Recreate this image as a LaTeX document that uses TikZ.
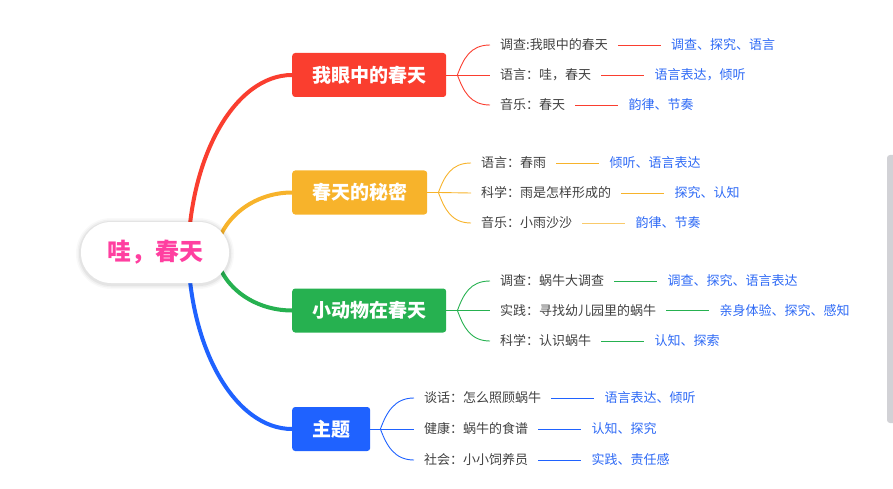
\documentclass[tikz,border=0pt]{standalone}
\usepackage{fontspec}
\setmainfont{Noto Sans CJK SC}
\usetikzlibrary{calc,backgrounds}
\definecolor{cred}{RGB}{250,62,47}
\definecolor{corange}{RGB}{247,179,43}
\definecolor{cgreen}{RGB}{38,177,80}
\definecolor{cblue}{RGB}{31,98,255}
\definecolor{cpink}{RGB}{255,63,160}
\definecolor{leafgray}{RGB}{64,64,64}
\definecolor{tagblue}{RGB}{45,105,245}
\definecolor{scrollgray}{RGB}{210,210,214}
\tikzset{
  mainbox/.style={anchor=west, rounded corners=3pt, text=white,
    font=\fontsize{19}{22}\selectfont\bfseries, inner xsep=20pt, inner ysep=0pt,
    minimum height=44pt},
  leaf/.style={anchor=west, inner xsep=10pt, inner ysep=2pt, text=leafgray,
    font=\fontsize{13}{15}\selectfont},
  tag/.style={anchor=west, inner xsep=10pt, inner ysep=2pt, text=tagblue,
    font=\fontsize{13}{15}\selectfont},
  sub/.style={line width=0.9pt},
  trunk/.style={line width=4pt},
  rootbox/.style={fill=white, rounded corners=30pt, minimum width=148pt,
    minimum height=61pt, inner sep=0pt, text=cpink,
    font=\fontsize{24}{28}\selectfont\bfseries},
}
\begin{document}
\begin{tikzpicture}[x=1pt,y=-1pt]
\useasboundingbox (0,0) rectangle (893,489);
% scrollbar
\fill[scrollgray, rounded corners=3pt] (887,155) rectangle (897,423);

% main boxes
\node[mainbox, fill=cred] (rm) at (292,75) {我眼中的春天};
\node[mainbox, fill=corange] (om) at (292,192.5) {春天的秘密};
\node[mainbox, fill=cgreen] (gm) at (292,310.5) {小动物在春天};
\node[mainbox, fill=cblue] (bm) at (292,429) {主题};

% junctions
\coordinate (rj) at ([xshift=11pt]rm.east);
\coordinate (oj) at ([xshift=11pt]om.east);
\coordinate (gj) at ([xshift=11pt]gm.east);
\coordinate (bj) at ([xshift=10pt]bm.east);

% red leaves
\node[leaf] (r1) at (490,45) {调查:我眼中的春天};
\node[leaf] (r2) at (490,75) {语言：哇，春天};
\node[leaf] (r3) at (490,105) {音乐：春天};
\node[tag] (r1t) at ([xshift=43pt]r1.east) {调查、探究、语言};
\node[tag] (r2t) at ([xshift=43pt]r2.east) {语言表达，倾听};
\node[tag] (r3t) at ([xshift=43pt]r3.east) {韵律、节奏};

% orange leaves
\node[leaf] (o1) at (471,163) {语言：春雨};
\node[leaf] (o2) at (471,193) {科学：雨是怎样形成的};
\node[leaf] (o3) at (471,223) {音乐：小雨沙沙};
\node[tag] (o1t) at ([xshift=43pt]o1.east) {倾听、语言表达};
\node[tag] (o2t) at ([xshift=43pt]o2.east) {探究、认知};
\node[tag] (o3t) at ([xshift=43pt]o3.east) {韵律、节奏};

% green leaves
\node[leaf] (g1) at (490,281) {调查：蜗牛大调查};
\node[leaf] (g2) at (490,310.5) {实践：寻找幼儿园里的蜗牛};
\node[leaf] (g3) at (490,341) {科学：认识蜗牛};
\node[tag] (g1t) at ([xshift=43pt]g1.east) {调查、探究、语言表达};
\node[tag] (g2t) at ([xshift=43pt]g2.east) {亲身体验、探究、感知};
\node[tag] (g3t) at ([xshift=43pt]g3.east) {认知、探索};

% blue leaves
\node[leaf] (b1) at (414,398) {谈话：怎么照顾蜗牛};
\node[leaf] (b2) at (414,429) {健康：蜗牛的食谱};
\node[leaf] (b3) at (414,460) {社会：小小饲养员};
\node[tag] (b1t) at ([xshift=43pt]b1.east) {语言表达、倾听};
\node[tag] (b2t) at ([xshift=43pt]b2.east) {认知、探究};
\node[tag] (b3t) at ([xshift=43pt]b3.east) {实践、责任感};

\coordinate (rc) at (155,252.5);

\begin{scope}[on background layer]
% trunks
\draw[trunk, cred] ($(rc)+(33,8)$) .. controls ($(rc)+(33,-95)$) and ($(rm.west)+(-57,0)$) .. (rm.west);
\draw[trunk, corange] ($(rc)+(60,8)$) .. controls ($(rc)+(60,-29)$) and ($(om.west)+(-42,0)$) .. (om.west);
\draw[trunk, cgreen] ($(rc)+(60,-8)$) .. controls ($(rc)+(60,29)$) and ($(gm.west)+(-42,0)$) .. (gm.west);
\draw[trunk, cblue] ($(rc)+(33,-8)$) .. controls ($(rc)+(33,95)$) and ($(bm.west)+(-57,0)$) .. (bm.west);

% red fan
\draw[sub, cred] (rm.east) -- (rj);
\draw[sub, cred] (rj) .. controls ($(rj)+(6,-16)$) and ($(r1.west)+(-20,0)$) .. (r1.west);
\draw[sub, cred] (rj) -- (r2.west);
\draw[sub, cred] (rj) .. controls ($(rj)+(6,16)$) and ($(r3.west)+(-20,0)$) .. (r3.west);
\draw[sub, cred] (r1.east) -- (r1t.west);
\draw[sub, cred] (r2.east) -- (r2t.west);
\draw[sub, cred] (r3.east) -- (r3t.west);

% orange fan
\draw[sub, corange] (om.east) -- (oj);
\draw[sub, corange] (oj) .. controls ($(oj)+(6,-16)$) and ($(o1.west)+(-20,0)$) .. (o1.west);
\draw[sub, corange] (oj) -- (o2.west);
\draw[sub, corange] (oj) .. controls ($(oj)+(6,16)$) and ($(o3.west)+(-20,0)$) .. (o3.west);
\draw[sub, corange] (o1.east) -- (o1t.west);
\draw[sub, corange] (o2.east) -- (o2t.west);
\draw[sub, corange!70] (o3.east) -- (o3t.west);

% green fan
\draw[sub, cgreen] (gm.east) -- (gj);
\draw[sub, cgreen] (gj) .. controls ($(gj)+(6,-16)$) and ($(g1.west)+(-20,0)$) .. (g1.west);
\draw[sub, cgreen] (gj) -- (g2.west);
\draw[sub, cgreen] (gj) .. controls ($(gj)+(6,16)$) and ($(g3.west)+(-20,0)$) .. (g3.west);
\draw[sub, cgreen] (g1.east) -- (g1t.west);
\draw[sub, cgreen] (g2.east) -- (g2t.west);
\draw[sub, cgreen] (g3.east) -- (g3t.west);

% blue fan
\draw[sub, cblue] (bm.east) -- (bj);
\draw[sub, cblue] (bj) .. controls ($(bj)+(6,-16)$) and ($(b1.west)+(-20,0)$) .. (b1.west);
\draw[sub, cblue] (bj) -- (b2.west);
\draw[sub, cblue] (bj) .. controls ($(bj)+(6,16)$) and ($(b3.west)+(-20,0)$) .. (b3.west);
\draw[sub, cblue] (b1.east) -- (b1t.west);
\draw[sub, cblue] (b2.east) -- (b2t.west);
\draw[sub, cblue] (b3.east) -- (b3t.west);
\end{scope}

% root shadow
\foreach \i/\o in {5/0.025,3.5/0.035,2/0.05} {
  \fill[black, opacity=\o, rounded corners=30pt+\i pt]
    ($(rc)+(-74-\i,-30.5-\i+1)$) rectangle ($(rc)+(74+\i,30.5+\i+1)$);
}
\node[rootbox] (root) at (rc) {哇，春天};
\end{tikzpicture}
\end{document}
